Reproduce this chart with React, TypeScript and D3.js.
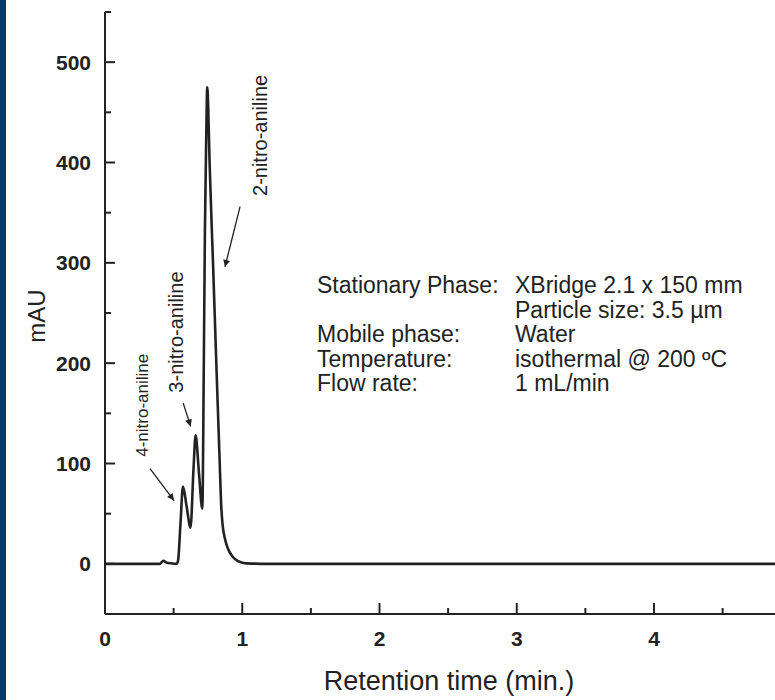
import React from 'react';
import * as d3 from 'd3';

// chromatogram trace (time in min, absorbance in mAU)
const times = [0, 0.4, 0.425, 0.45, 0.48, 0.52, 0.532, 0.55, 0.568, 0.595, 0.623, 0.645, 0.66, 0.685, 0.709, 0.72, 0.728, 0.737, 0.745, 0.752, 0.762, 0.787, 0.811, 0.836, 0.846, 0.856, 0.874, 0.896, 0.925, 0.954, 0.99, 1.03, 1.2, 5];
const absorbance = [0, 0, 3, 1, 0.5, 0, 3, 40, 77, 57, 36, 95, 128, 90, 55, 200, 332, 420, 475, 455, 400, 300, 200, 100, 60, 40, 25, 15, 8, 4, 1.5, 0.5, 0, 0];

const xMajorTicks = [0, 1, 2, 3, 4];
const xMinorTicks = [0.5, 1.5, 2.5, 3.5, 4.5];
const yMajorTicks = [0, 100, 200, 300, 400, 500];
const yMinorTicks = [-50, 50, 150, 250, 350, 450, 550];

// peak labels: label anchor (time, mAU), arrow start and arrow tip
const peakNames = ['2-nitro-aniline', '3-nitro-aniline', '4-nitro-aniline'];
const peakLabelAt = [[1.18, 427], [0.568, 231], [0.313, 158]];
const peakLabelSize = [20, 20, 17];
const arrowFrom = [[0.984, 356], [0.57, 160], [0.328, 95]];
const arrowTo = [[0.874, 296], [0.624, 137], [0.503, 63]];

const infoLabels = ['Stationary Phase:', '', 'Mobile phase:', 'Temperature:', 'Flow rate:'];
const infoValues = ['XBridge 2.1 x 150 mm', 'Particle size: 3.5 \u00b5m', 'Water', 'isothermal @ 200 \u00baC', '1 mL/min'];

const W = 775;
const H = 700;
const FONT = '"Liberation Sans", Arial, Helvetica, sans-serif';
const INK = '#222';

export default function App() {
  const x = d3.scaleLinear().domain([0, 5]).range([105, 105 + 5 * 137.25]);
  const y = d3.scaleLinear().domain([-50, 550]).range([614, 12]);

  const pts = times.map((t, i) => [t, absorbance[i]] as [number, number]);
  const line = d3.line<[number, number]>()
    .x(d => x(d[0]))
    .y(d => y(d[1]))
    .curve(d3.curveMonotoneX);

  const x0 = x(0);
  const yBase = y(-50);

  return (
    <svg width={W} height={H} style={{ position: 'absolute', left: 0, top: 0 }}>
      <defs>
        <marker id="head" viewBox="0 0 10 10" refX="10" refY="5" markerWidth="9" markerHeight="7" markerUnits="userSpaceOnUse" orient="auto">
          <path d="M0,0 L10,5 L0,10 z" fill={INK} />
        </marker>
      </defs>
      <rect x={0} y={0} width={W} height={H} fill="#fff" />
      <rect x={0} y={0} width={6} height={H} fill="#023a70" />

      {/* axes */}
      <g stroke={INK} strokeWidth={2} fill="none">
        <line x1={x0} x2={x0} y1={y(550)} y2={yBase} />
        <line x1={x0} x2={W} y1={yBase} y2={yBase} />
        {yMajorTicks.map(v => <line key={'ym' + v} x1={x0} x2={x0 + 10} y1={y(v)} y2={y(v)} />)}
        {yMinorTicks.map(v => <line key={'yn' + v} x1={x0} x2={x0 + 6} y1={y(v)} y2={y(v)} />)}
        {xMajorTicks.map(v => <line key={'xm' + v} x1={x(v)} x2={x(v)} y1={yBase} y2={yBase - 11} />)}
        {xMinorTicks.map(v => <line key={'xn' + v} x1={x(v)} x2={x(v)} y1={yBase} y2={yBase - 6} />)}
      </g>

      <g fontFamily={FONT} fontWeight="bold" fontSize={21} fill={INK}>
        {yMajorTicks.map(v => (
          <text key={'yl' + v} x={x0 - 14} y={y(v)} dy="0.36em" textAnchor="end">{v}</text>
        ))}
        {xMajorTicks.map(v => (
          <text key={'xl' + v} x={x(v)} y={646} textAnchor="middle">{v}</text>
        ))}
      </g>

      <text x={449} y={690} textAnchor="middle" fontFamily={FONT} fontSize={27} fill={INK}>Retention time (min.)</text>
      <text transform="translate(45,316) rotate(-90)" textAnchor="middle" fontFamily={FONT} fontSize={24} fill={INK}>mAU</text>

      {/* trace */}
      <path d={line(pts) || ''} fill="none" stroke={INK} strokeWidth={2.6} strokeLinejoin="round" />

      {/* peak annotations */}
      {peakNames.map((name, i) => (
        <g key={name}>
          <text
            transform={`translate(${x(peakLabelAt[i][0])},${y(peakLabelAt[i][1])}) rotate(-90)`}
            textAnchor="middle"
            fontFamily={FONT}
            fontSize={peakLabelSize[i]}
            fill={INK}
          >{name}</text>
          <line
            x1={x(arrowFrom[i][0])} y1={y(arrowFrom[i][1])}
            x2={x(arrowTo[i][0])} y2={y(arrowTo[i][1])}
            stroke={INK} strokeWidth={1.3} markerEnd="url(#head)"
          />
        </g>
      ))}

      {/* conditions block */}
      <g fontFamily={FONT} fontSize={23} fill={INK}>
        {infoLabels.map((lab, i) => (
          <text key={'il' + i} x={317} y={293 + i * 24.5}>{lab}</text>
        ))}
        {infoValues.map((val, i) => (
          <text key={'iv' + i} x={515} y={293 + i * 24.5}>{val}</text>
        ))}
      </g>
    </svg>
  );
}
